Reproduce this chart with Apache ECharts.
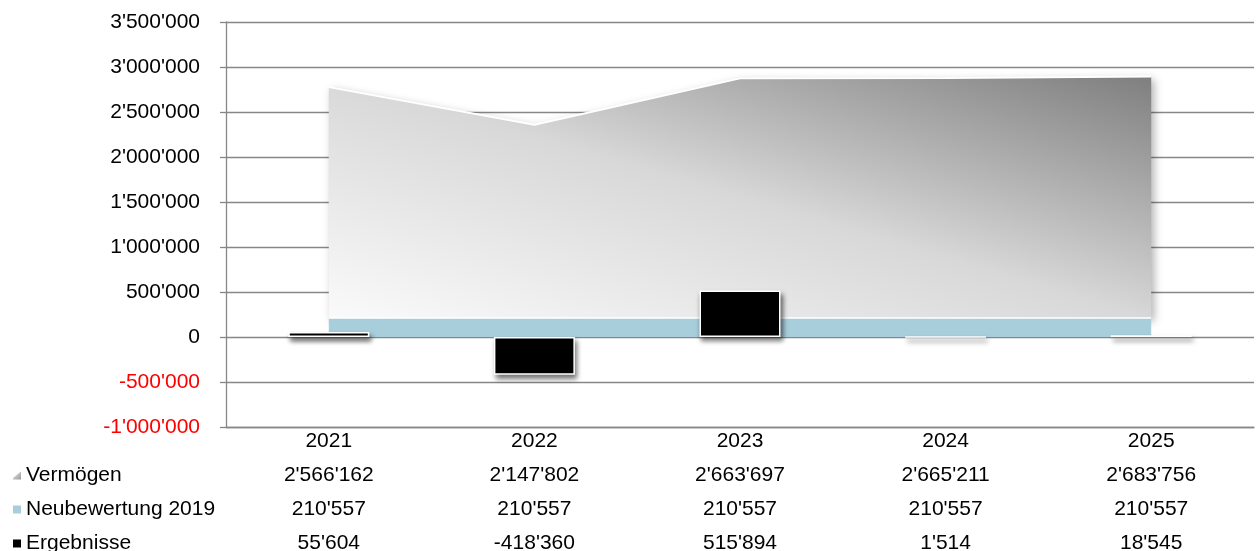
<!DOCTYPE html>
<html>
<head>
<meta charset="utf-8">
<script src="https://cdn.jsdelivr.net/npm/echarts@6/dist/echarts.min.js"></script>
<style>html,body{margin:0;padding:0;background:#fff}#c{width:1258px;height:551px}</style>
</head>
<body>
<div id="c"></div>
<script>
const categories = ['2021', '2022', '2023', '2024', '2025'];
const vermoegen = [2566162, 2147802, 2663697, 2665211, 2683756];
const neubewertung = [210557, 210557, 210557, 210557, 210557];
const ergebnisse = [55604, -418360, 515894, 1514, 18545];
const seriesNames = ['Vermögen', 'Neubewertung 2019', 'Ergebnisse'];

function fmt(v) { return String(v).replace(/\B(?=(\d{3})+(?!\d))/g, "'"); }

const FONT = 'Liberation Sans, Arial, sans-serif';
const FS = 21;
const GRID = '#878787';

// gradient oriented so that iso-lines follow the bbox diagonal (pixel space)
const W = 822, H = 242, L2 = W * W + H * H;
const gx2 = 2 * H * H / L2, gy2 = 1 - 2 * W * W / L2;

const chart = echarts.init(document.getElementById('c'));
function legendAt(name, top, icon, color) {
  return {
    left: 13, top: top, orient: 'vertical', padding: 0,
    itemWidth: 8, itemHeight: 8, icon: icon,
    data: [{ name: name, itemStyle: { color: color, borderWidth: 0, shadowBlur: 0 } }],
    textStyle: { fontFamily: FONT, fontSize: FS, color: '#000' },
    selectedMode: false
  };
}
chart.setOption({
  animation: false,
  textStyle: { fontFamily: FONT },
  legend: [
    legendAt(seriesNames[0], 465, 'path://M10,0 L10,10 L0,10 L0,8 Z', new echarts.graphic.LinearGradient(0, 0, 1, 1, [{ offset: 0, color: '#e8e8e8' }, { offset: 1, color: '#9a9a9a' }])),
    legendAt(seriesNames[1], 499, 'rect', '#a8cddb'),
    legendAt(seriesNames[2], 533, 'rect', '#000')
  ],
  grid: { left: 226, right: 4, top: 22, bottom: 124, outerBoundsMode: 'none', containLabel: false },
  xAxis: {
    type: 'category',
    data: categories,
    boundaryGap: true,
    axisLine: { show: true, onZero: false, lineStyle: { color: GRID, width: 1.3 } },
    axisTick: { show: false },
    axisLabel: {
      margin: -3,
      interval: 0,
      formatter: function (value, idx) {
        return '{a|' + value + '}\n{a|' + fmt(vermoegen[idx]) + '}\n{a|' + fmt(neubewertung[idx]) + '}\n{a|' + fmt(ergebnisse[idx]) + '}';
      },
      rich: { a: { fontFamily: FONT, fontSize: FS, color: '#000', lineHeight: 34 } }
    }
  },
  yAxis: {
    type: 'value',
    min: -1000000, max: 3500000, interval: 500000,
    axisLine: { show: true, lineStyle: { color: GRID, width: 1.3 } },
    axisTick: { show: true, length: 6, lineStyle: { color: GRID, width: 1.3 } },
    splitLine: { show: true, lineStyle: { color: GRID, width: 1.3 } },
    axisLabel: {
      margin: 26,
      fontFamily: FONT, fontSize: FS,
      formatter: function (v) { return fmt(v); },
      color: function (v) { return Number(v) < 0 ? '#ff0000' : '#000'; }
    }
  },
  series: [
    {
      name: seriesNames[1], type: 'line', stack: 'a', data: neubewertung,
      showSymbol: false, symbol: 'none',
      lineStyle: { color: '#fff', width: 1.5 },
      itemStyle: { color: '#a8cddb' },
      areaStyle: { color: '#a8cddb', opacity: 1 },
      z: 2
    },
    {
      name: seriesNames[0], type: 'line', stack: 'a', data: vermoegen,
      showSymbol: false, symbol: 'none',
      lineStyle: { color: '#fff', width: 1.8 },
      itemStyle: { color: '#c0c0c0' },
      areaStyle: {
        opacity: 1,
        color: new echarts.graphic.LinearGradient(0, 1, gx2, gy2, [
          { offset: 0, color: '#fafafa' },
          { offset: 0.5, color: '#d8d8d8' },
          { offset: 1, color: '#7f7f7f' }
        ]),
        shadowColor: 'rgba(0,0,0,0.3)', shadowBlur: 8, shadowOffsetX: 3, shadowOffsetY: 3
      },
      z: 1
    },
    {
      name: seriesNames[2], type: 'bar', data: ergebnisse,
      barWidth: 81,
      itemStyle: {
        color: '#000', borderColor: '#fff', borderWidth: 1.5,
        shadowColor: 'rgba(0,0,0,0.6)', shadowBlur: 5, shadowOffsetX: 2, shadowOffsetY: 4
      },
      z: 3
    }
  ]
});
</script>
</body>
</html>
